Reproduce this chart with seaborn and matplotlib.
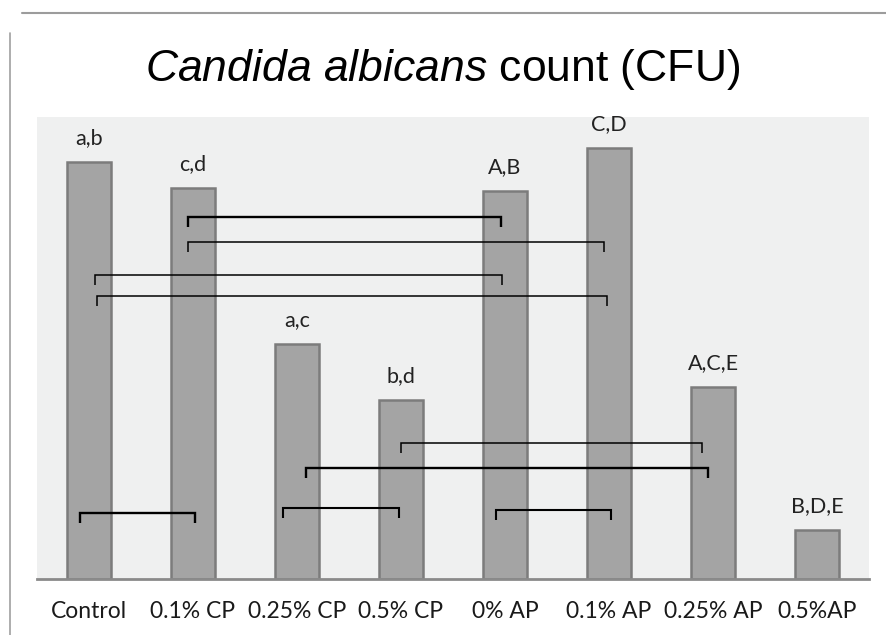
import matplotlib
matplotlib.use("Agg")
import matplotlib.pyplot as plt
from matplotlib.lines import Line2D
import seaborn as sns
import pandas as pd

# Groups, counts and significance letters
groups = ["Control", "0.1% CP", "0.25% CP", "0.5% CP", "0% AP", "0.1% AP", "0.25% AP", "0.5%AP"]
counts = [4.17, 3.91, 2.35, 1.79, 3.88, 4.31, 1.92, 0.49]
letters = ["a,b", "c,d", "a,c", "b,d", "A,B", "C,D", "A,C,E", "B,D,E"]

# Comparison brackets: start/end positions on the category axis, height, line weight
bracket_start = [0.955, 0.955, 0.06, 0.075, 3.0, 2.09, -0.085, 1.87, 3.91]
bracket_end = [3.96, 4.955, 3.97, 4.98, 5.89, 5.95, 1.02, 2.98, 5.02]
bracket_height = [3.62, 3.37, 3.04, 2.83, 1.36, 1.11, 0.66, 0.71, 0.69]
bracket_weight = [1.7, 1.1, 1.1, 1.1, 1.1, 1.7, 1.7, 1.5, 1.5]

df = pd.DataFrame({"group": groups, "count": counts})

sns.set_theme(style="white")
plt.rcParams["font.family"] = ["Lato", "DejaVu Sans"]
plt.rcParams["mathtext.fontset"] = "custom"
plt.rcParams["mathtext.rm"] = "Liberation Sans"
plt.rcParams["mathtext.it"] = "Liberation Sans:italic"

W, H = 886, 635
fig = plt.figure(figsize=(W / 100, H / 100), dpi=100)
ax = fig.add_axes([37 / W, 1 - 579 / H, (869 - 37) / W, (579 - 117) / H])
ax.set_facecolor("#eff0f0")

sns.barplot(data=df, x="group", y="count", color="#a4a4a4", saturation=1,
            width=0.415, edgecolor="#7c7c7c", linewidth=1.8, ax=ax)

ax.set_xlim(-0.5, 7.5)
ax.set_ylim(0, 4.62)
ax.set_xlabel("")
ax.set_ylabel("")
ax.set_yticks([])
for side in ["left", "right", "top"]:
    ax.spines[side].set_visible(False)
ax.spines["bottom"].set_color("#8a8a8a")
ax.spines["bottom"].set_linewidth(2.0)
ax.tick_params(axis="x", length=0, pad=16, labelsize=16.5, labelcolor="#1a1a1a")

# Letters above each bar
for i, (v, lab) in enumerate(zip(counts, letters)):
    ax.annotate(lab, (i, v), xytext=(0, 17), textcoords="offset points",
                ha="center", va="center", fontsize=15.5, color="#222222",
                annotation_clip=False)

# Comparison brackets
drop = 0.1
for x0, x1, y, lw in zip(bracket_start, bracket_end, bracket_height, bracket_weight):
    ax.plot([x0, x0, x1, x1], [y - drop, y, y, y - drop], color="black",
            lw=lw, solid_joinstyle="miter", solid_capstyle="butt")

fig.text(443 / W, 1 - 69 / H, r"$\it{Candida\ albicans}$ count (CFU)",
         ha="center", va="center", fontsize=32, color="black",
         family=["Liberation Sans", "DejaVu Sans"])

# Page frame lines
fig.add_artist(Line2D([22 / W, 1.0], [1 - 13 / H, 1 - 13 / H], color="#9c9c9c", lw=1.5))
fig.add_artist(Line2D([10 / W, 10 / W], [0.0, 1 - 33 / H], color="#a0a0a0", lw=1.2))

fig.savefig("out.png", dpi=100)
